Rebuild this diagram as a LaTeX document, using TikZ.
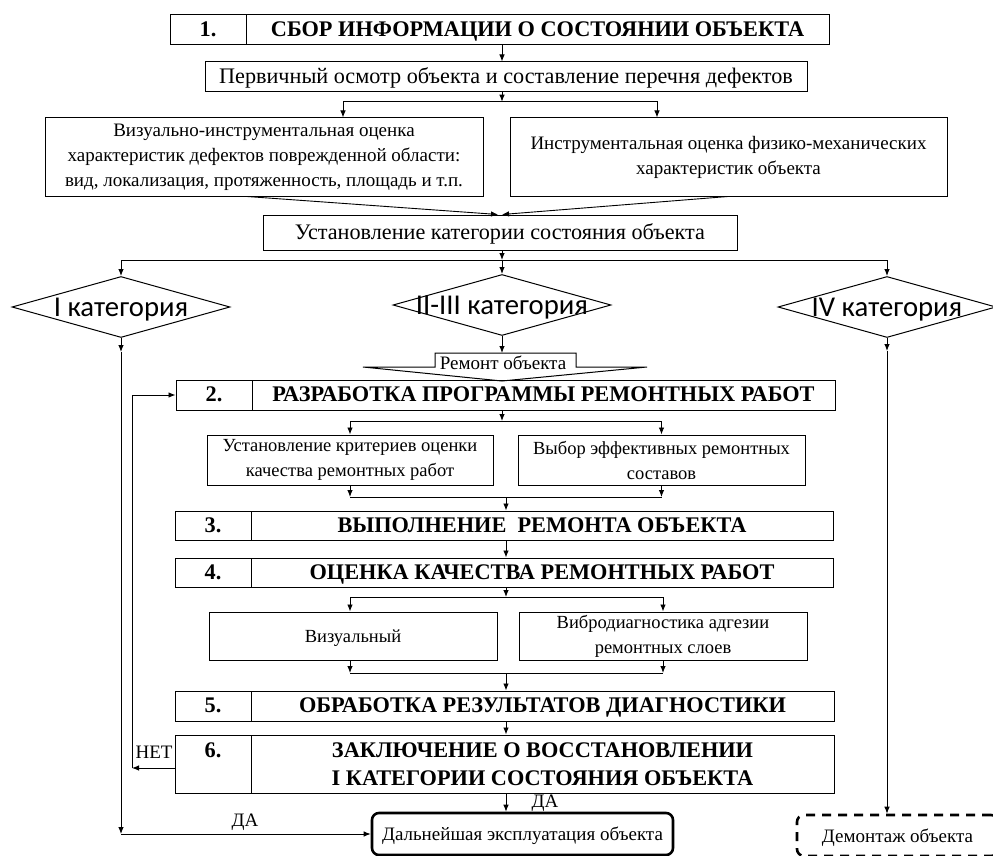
\documentclass[tikz,border=0pt]{standalone}
\usepackage{fontspec}
\setmainfont{Liberation Serif}
\newfontfamily\calib{Carlito}
\usetikzlibrary{shapes.geometric,arrows.meta}
\newcommand\mkbox[7][]{%
  \node[bx,#1,minimum width={(#5-#3)*1pt},minimum height={(#6-#4)*1pt}] (#2) at ({(#3+#5)/2},{(#4+#6)/2}) {#7};}
\begin{document}
\begin{tikzpicture}[x=1pt,y=-1pt,
  bx/.style={draw=black, line width=1pt, inner sep=0pt, align=center, font=\fontsize{19}{25}\selectfont},
  sm/.style={font=\fontsize{18.5}{25}\selectfont},
  hd/.style={font=\bfseries\fontsize{22.3}{28}\selectfont},
  one/.style={text height=14.5pt, text depth=1pt},
  big/.style={font=\fontsize{22.2}{26}\selectfont},
  dia/.style={diamond, draw=black, line width=1pt, inner sep=0pt, minimum width=218pt, minimum height=61pt},
  dtext/.style={font=\calib\fontsize{28.7}{32}\selectfont, text height=18.5pt, text depth=0pt, inner sep=0pt},
  fin/.style={rounded corners=7pt, line width=2.6pt, font=\fontsize{19}{22}\selectfont},
  dem/.style={rounded corners=7pt, line width=2.6pt, dash pattern=on 9pt off 7pt, font=\fontsize{19}{22}\selectfont},
  lbl/.style={font=\fontsize{19}{22}\selectfont, inner sep=0pt},
  arr/.style={-{Latex[length=7pt,width=5.5pt]}, line width=0.9pt},
  ln/.style={line width=0.9pt}]
\useasboundingbox (0,0) rectangle (993,856);
\fill[white] (0,0) rectangle (993,856);
% helper x positions
\coordinate (mid) at (502,0);
\coordinate (mid2) at (506,0);
% stage 1
\mkbox[hd,one]{n1}{170}{15}{246}{45}{1.}
\mkbox[hd,one]{t1}{246}{15}{829}{45}{СБОР ИНФОРМАЦИИ О СОСТОЯНИИ ОБЪЕКТА}
\mkbox[big,one]{b2}{205}{62}{807}{92}{Первичный осмотр объекта и составление перечня дефектов}
\mkbox{b3}{45}{118}{483}{196}{Визуально-инструментальная оценка\\характеристик дефектов поврежденной области:\\вид, локализация, протяженность, площадь и т.п.}
\mkbox{b4}{510}{118}{947}{196}{Инструментальная оценка физико-механических\\характеристик объекта}
\mkbox[big,one]{b5}{263}{215}{737}{250}{Установление категории состояния объекта}
% diamonds
\node[dia] (dI) at (121,307) {};
\node[dtext] at (dI.center) {I категория};
\node[dia] (dII) at (502,305) {};
\node[dtext] at (dII.center) {II-III категория};
\node[dia] (dIV) at (887,307) {};
\node[dtext] at (dIV.center) {IV категория};
% block arrow "Remont"
\draw[line width=1pt] (435,353) -- (576,353) -- (576,367) -- (647,367) -- (502,381) -- (363,367) -- (435,367) -- cycle;
\node[font=\fontsize{19}{22}\selectfont, inner sep=0pt, anchor=base] (rem) at (503,369) {Ремонт объекта};
\coordinate (remtop) at (502,353);
% stage 2
\mkbox[hd,one]{n2}{176}{380}{252}{410}{2.}
\mkbox[hd,one]{t2}{252}{380}{835}{410}{РАЗРАБОТКА ПРОГРАММЫ РЕМОНТНЫХ РАБОТ}
\mkbox[sm]{a1}{207}{435}{493}{485}{Установление критериев оценки\\качества ремонтных работ}
\mkbox[sm]{a2}{518}{435}{805}{485}{Выбор эффективных ремонтных\\составов}
% stage 3,4
\mkbox[hd,one]{n3}{175}{511}{251}{540}{3.}
\mkbox[hd,one]{t3}{251}{511}{833}{540}{ВЫПОЛНЕНИЕ\ \ РЕМОНТА ОБЪЕКТА}
\mkbox[hd,one]{n4}{175}{558}{251}{587}{4.}
\mkbox[hd,one]{t4}{251}{558}{833}{587}{ОЦЕНКА КАЧЕСТВА РЕМОНТНЫХ РАБОТ}
\mkbox[sm,one]{v1}{209}{612}{497}{660}{Визуальный}
\mkbox[sm]{v2}{519}{612}{807}{660}{Вибродиагностика адгезии\\ремонтных слоев}
% stage 5,6
\mkbox[hd,one]{n5}{175}{691}{251}{721}{5.}
\mkbox[hd,one]{t5}{251}{691}{834}{721}{ОБРАБОТКА РЕЗУЛЬТАТОВ ДИАГНОСТИКИ}
\mkbox[hd]{n6}{175}{735}{251}{793}{6.\\\phantom{I}}
\mkbox[hd]{t6}{251}{735}{834}{793}{ЗАКЛЮЧЕНИЕ О ВОССТАНОВЛЕНИИ\\I КАТЕГОРИИ СОСТОЯНИЯ ОБЪЕКТА}
% final boxes
\mkbox[fin,one]{f1}{372}{813}{673}{855}{Дальнейшая эксплуатация объекта}
\mkbox[dem,one]{f2}{797}{815}{998}{856}{Демонтаж объекта}

% ---- connectors ----
\draw[arr] (t1.south -| mid) -- (b2.north -| mid);
\coordinate (j1) at (502,101.7);
\coordinate (xL1) at (343,101.7);
\coordinate (xR1) at (657,101.7);
\draw[arr] (b2.south -| mid) -- (j1);
\draw[arr] (j1) -- (xL1) -- (xL1 |- b3.north);
\draw[arr] (j1) -- (xR1) -- (xR1 |- b4.north);
\coordinate (x247) at (247,0);
\coordinate (x728) at (728,0);
\coordinate (x498) at (498,0);
\draw[arr] (b3.south -| x247) -- (b5.north -| x498);
\draw[arr] (b4.south -| x728) -- (b5.north -| mid);
\coordinate (j2) at (502,260);
\draw[arr] (b5.south -| mid) -- (j2);
\draw[ln] (dI.north |- j2) -- (dIV.north |- j2);
\draw[arr] (dI.north |- j2) -- (dI.north);
\draw[arr] (j2) -- (dII.north);
\draw[arr] (dIV.north |- j2) -- (dIV.north);
% I category
\coordinate (c1) at (121,352);
\coordinate (c2) at (121,834);
\draw[arr] (dI.south) -- (c1);
\draw[arr] (c1) -- (c2);
\draw[arr] (c2) -- (f1.west);
\node[lbl] (da1) at (245,822) {ДА};
% IV category
\coordinate (c3) at (887,351);
\draw[arr] (dIV.south) -- (c3);
\draw[arr] (c3) -- (f2.north -| c3);
% II-III
\draw[arr] (dII.south) -- (remtop);
% stage 2 split
\coordinate (j3) at (502,421);
\draw[arr] (t2.south -| mid) -- (j3);
\draw[ln] (a1.north |- j3) -- (a2.north |- j3);
\draw[arr] (a1.north |- j3) -- (a1.north);
\draw[arr] (a2.north |- j3) -- (a2.north);
% merge to 3
\coordinate (j4) at (506,497);
\draw[arr] (a1.south) -- (a1.south |- j4);
\draw[arr] (a2.south) -- (a2.south |- j4);
\draw[ln] (a1.south |- j4) -- (a2.south |- j4);
\draw[arr] (j4) -- (t3.north -| j4);
\draw[arr] (t3.south -| mid2) -- (t4.north -| mid2);
% split 4
\coordinate (j5) at (506,597);
\coordinate (xv1) at (350,0);
\coordinate (xv2) at (663,0);
\draw[arr] (t4.south -| mid2) -- (j5);
\draw[ln] (xv1 |- j5) -- (xv2 |- j5);
\draw[arr] (xv1 |- j5) -- (v1.north -| xv1);
\draw[arr] (xv2 |- j5) -- (v2.north -| xv2);
% merge to 5
\coordinate (j6) at (506,673);
\draw[arr] (v1.south -| xv1) -- (xv1 |- j6);
\draw[arr] (v2.south -| xv2) -- (xv2 |- j6);
\draw[ln] (xv1 |- j6) -- (xv2 |- j6);
\draw[arr] (j6) -- (t5.north -| j6);
\draw[arr] (t5.south -| mid2) -- (t6.north -| mid2);
\draw[arr] (t6.south -| mid2) -- (f1.north -| mid2);
\node[lbl] (da2) at (545,803) {ДА};
% feedback
\coordinate (fb) at (132,768);
\draw[arr] (n6.west |- fb) -- (fb);
\draw[arr] (fb) -- (fb |- n2.west) -- (n2.west);
\node[lbl] (net) at (154,752) {НЕТ};
\end{tikzpicture}
\end{document}
